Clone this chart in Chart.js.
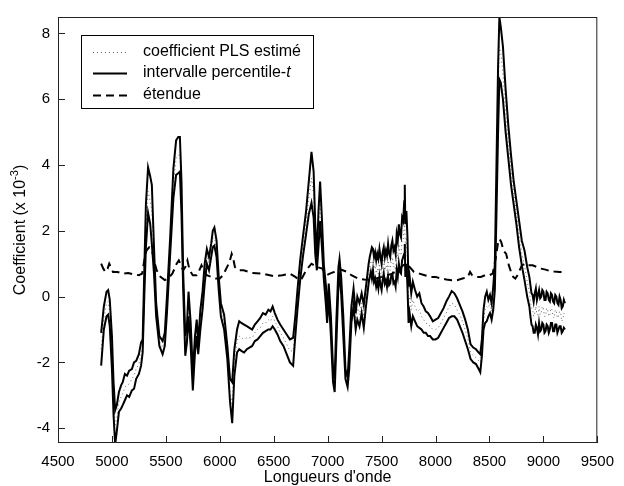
<!DOCTYPE html>
<html>
<head>
<meta charset="utf-8">
<script src="https://cdn.jsdelivr.net/npm/chart.js@4.4.1/dist/chart.umd.min.js"></script>
<style>
  body { margin: 0; background: #fff; }
  #wrap { width: 624px; height: 486px; }
</style>
</head>
<body>
<div id="wrap"><canvas id="coef" width="624" height="486"></canvas></div>
<script>
  // wavenumbers for the bootstrap band (upper / lower bound and estimate)
  const bandX = [
    4900,4925,4950,4965,4980,5000,5015,5030,5045,5065,
    5085,5100,5120,5140,5160,5185,5205,5225,5250,5270,
    5285,5300,5315,5335,5355,5370,5390,5410,5440,5470,
    5490,5510,5540,5570,5595,5615,5630,5645,5660,5680,
    5695,5710,5730,5750,5770,5786,5800,5820,5840,5860,
    5880,5900,5920,5935,5950,5970,5990,6010,6040,6070,
    6095,6115,6135,6160,6180,6200,6225,6250,6275,6300,
    6325,6350,6375,6400,6425,6450,6470,6490,6510,6535,
    6560,6590,6620,6650,6680,6700,6720,6745,6770,6800,
    6825,6850,6870,6885,6900,6915,6930,6945,6965,6985,
    6995,7010,7030,7050,7065,7080,7100,7110,7125,7145,
    7165,7185,7200,7220,7240,7260,7275,7295,7315,7335,
    7355,
    7380,7390,7400,7410,7420,7430,7440,7450,7460,7470,
    7480,7490,7500,7510,7520,7530,7540,7550,7560,7570,
    7580,7590,7600,7610,7620,7630,7640,7650,7660,7670,
    7680,7690,7700,7710,7715,7720,7730,7740,7750,7760,
    7775,7790,7810,7830,7850,7870,7890,
    7910,7930,7950,7975,8000,8025,8050,8075,8100,8125,
    8150,8175,8200,8225,8250,8275,8300,8325,8350,8375,
    8400,8415,8430,8445,8460,8475,8490,8505,8520,8535,
    8550,8565,8580,8592,8605,8625,8650,8675,8700,8725,
    8750,8775,8800,8825,8850,8870,
    8880,8890,8900,8910,8920,8930,8940,8950,8960,8970,
    8980,8990,9000,9010,9020,9030,9040,9050,9060,9070,
    9080,9090,9100,9110,9120,9130,9140,9150,9160,9170,
    9180,9190,9200
  ];
  const upperT = [
    -1.1,-0.3,0.15,0.2,-0.1,-1.2,-2.6,-3.45,-3.3,-2.9,
    -2.7,-2.6,-2.35,-2.4,-2.25,-2.2,-2.0,-1.95,-1.75,-1.4,
    -1.3,0.8,2.8,3.93,3.65,3.4,1.5,-0.2,-1.2,-1.35,
    -1.1,0.0,1.8,3.9,4.75,4.85,4.85,3.5,0.8,-1.2,
    -0.9,0.15,-0.8,-2.3,-1.2,-0.7,-1.4,-0.4,0.15,1.0,
    1.45,1.2,1.6,2.0,2.1,1.7,0.6,-0.2,-0.55,-1.5,
    -2.5,-2.6,-1.6,-1.0,-0.75,-0.8,-0.85,-0.9,-0.95,-1.0,
    -0.85,-0.75,-0.65,-0.5,-0.55,-0.4,-0.45,-0.3,-0.5,-0.7,
    -0.85,-1.0,-1.15,-1.3,-1.25,-0.6,0.2,1.1,1.8,2.6,
    3.5,4.4,3.8,2.2,1.2,2.6,3.5,2.5,0.95,0.3,
    -0.6,0.4,-0.6,-2.2,-2.5,-0.8,0.9,1.15,0.6,-0.6,
    -2.2,-2.45,-1.6,-0.3,0.25,-0.5,0.0,-0.2,0.1,-0.25,
    0.3,
    1.0,1.2,1.35,1.5,1.45,1.2,1.35,1.1,1.3,1.15,
    1.45,1.2,1.0,1.35,1.5,1.2,1.4,1.25,1.6,1.3,
    1.2,1.55,1.7,1.4,1.5,1.3,1.9,1.7,2.2,1.9,
    1.8,2.4,2.3,2.9,3.4,2.2,2.6,1.8,0.3,0.6,
    0.1,0.45,0.2,0.0,0.1,-0.2,-0.3,
    -0.45,-0.5,-0.6,-0.75,-0.7,-0.65,-0.5,-0.35,-0.15,0.0,
    0.17,0.1,-0.05,-0.25,-0.45,-0.7,-1.0,-1.45,-1.55,-1.6,
    -1.7,-1.75,-1.3,-0.4,0.0,0.15,-0.1,0.05,-0.2,0.3,
    1.0,4.0,7.0,8.5,8.2,7.6,6.3,5.2,4.3,3.5,
    2.9,2.3,1.7,1.4,0.9,0.6,
    0.35,0.1,0.05,-0.15,0.1,0.25,-0.1,0.05,0.2,-0.05,
    0.0,0.2,0.15,-0.1,-0.1,0.15,0.1,-0.1,-0.15,0.1,
    0.05,-0.15,-0.2,0.05,0.0,-0.2,-0.25,0.0,-0.1,-0.35,
    -0.3,-0.1,-0.2
  ];
  const lowerT = [
    -2.1,-1.0,-0.6,-0.55,-0.9,-2.2,-3.6,-4.5,-4.1,-3.5,
    -3.4,-3.3,-3.15,-3.0,-3.05,-2.85,-2.8,-2.5,-2.35,-2.1,
    -1.7,0.0,1.5,2.55,2.2,1.6,0.7,-0.6,-1.5,-1.75,
    -1.5,-0.5,1.3,3.0,3.7,3.75,3.8,2.5,0.3,-1.8,
    -1.4,-0.6,-1.5,-2.85,-1.7,-1.2,-1.75,-1.0,-0.4,0.4,
    1.0,0.8,1.2,1.5,1.55,1.2,0.2,-0.6,-1.0,-1.9,
    -3.2,-3.85,-2.4,-1.7,-1.6,-1.65,-1.7,-1.6,-1.55,-1.5,
    -1.35,-1.3,-1.2,-1.1,-1.05,-1.0,-1.0,-0.9,-1.0,-1.15,
    -1.35,-1.5,-1.75,-2.0,-2.1,-1.2,-0.4,0.5,1.2,1.9,
    2.5,2.85,2.4,1.3,0.8,1.5,2.3,1.6,0.5,-0.3,
    -0.8,0.0,-1.2,-2.6,-2.9,-1.5,0.4,0.6,0.1,-1.2,
    -2.5,-2.75,-2.2,-0.8,-0.3,-1.0,-0.7,-0.9,-0.5,-0.95,
    -0.3,
    0.4,0.6,0.75,0.55,0.8,0.45,0.55,0.3,0.45,0.25,
    0.6,0.35,0.2,0.5,0.7,0.4,0.5,0.3,0.6,0.35,
    0.4,0.65,0.7,0.4,0.45,0.3,0.8,0.6,1.0,0.75,
    0.7,1.1,1.2,1.3,1.6,0.6,1.0,0.3,-0.8,-0.5,
    -0.9,-0.6,-0.75,-0.9,-0.95,-1.0,-1.1,
    -1.1,-1.2,-1.2,-1.3,-1.3,-1.25,-1.1,-0.95,-0.8,-0.65,
    -0.6,-0.6,-0.7,-0.9,-1.1,-1.35,-1.6,-1.9,-2.0,-2.05,
    -2.2,-2.3,-1.8,-1.0,-0.8,-0.75,-0.6,-0.5,-0.7,-0.4,
    0.2,2.5,5.0,6.6,6.5,6.0,5.0,4.2,3.4,2.8,
    2.2,1.5,0.95,0.5,0.0,-0.3,
    -0.6,-0.85,-0.9,-1.1,-1.1,-0.85,-0.95,-1.15,-0.8,-1.05,
    -1.0,-0.8,-0.85,-1.1,-1.05,-0.85,-0.9,-1.1,-1.0,-0.8,
    -0.8,-1.05,-1.05,-0.85,-0.85,-1.1,-1.0,-0.9,-0.9,-1.1,
    -1.05,-0.95,-1.0
  ];
  const estimate = [
    -1.6,-0.65,-0.2,-0.15,-0.5,-1.7,-3.1,-3.9,-3.7,-3.2,
    -3.05,-2.95,-2.75,-2.7,-2.65,-2.5,-2.4,-2.2,-2.05,-1.75,
    -1.5,0.4,2.1,3.2,2.9,2.6,1.1,-0.4,-1.35,-1.55,
    -1.3,-0.25,1.55,3.4,4.2,4.3,4.3,3.0,0.55,-1.5,
    -1.15,-0.2,-1.15,-2.55,-1.45,-0.95,-1.55,-0.7,-0.1,0.7,
    1.25,1.0,1.4,1.75,1.8,1.45,0.4,-0.4,-0.8,-1.7,
    -2.9,-3.3,-2.0,-1.35,-1.2,-1.25,-1.3,-1.25,-1.25,-1.25,
    -1.1,-1.0,-0.95,-0.8,-0.8,-0.7,-0.75,-0.6,-0.75,-0.9,
    -1.1,-1.25,-1.45,-1.65,-1.65,-0.9,-0.1,0.8,1.5,2.25,
    3.0,3.6,3.1,1.75,1.0,2.0,2.9,2.0,0.7,0.0,
    -0.7,0.2,-0.9,-2.4,-2.7,-1.1,0.65,0.9,0.35,-0.9,
    -2.35,-2.6,-1.9,-0.55,0.0,-0.75,-0.35,-0.55,-0.2,-0.6,
    0.0,
    0.7,0.9,1.05,1.0,1.1,0.85,0.95,0.7,0.85,0.7,
    1.0,0.75,0.6,0.95,1.1,0.8,0.95,0.8,1.1,0.85,
    0.8,1.1,1.2,0.9,0.95,0.8,1.35,1.15,1.6,1.3,
    1.25,1.75,1.75,2.1,2.5,1.4,1.8,1.0,-0.2,0.0,
    -0.4,-0.1,-0.3,-0.45,-0.4,-0.6,-0.7,
    -0.8,-0.85,-0.9,-1.0,-1.0,-0.95,-0.8,-0.65,-0.5,-0.3,
    -0.2,-0.25,-0.4,-0.55,-0.75,-1.0,-1.3,-1.7,-1.8,-1.85,
    -1.95,-2.0,-1.55,-0.7,-0.4,-0.3,-0.35,-0.2,-0.45,-0.05,
    0.6,3.2,6.0,7.6,7.4,6.8,5.6,4.7,3.85,3.15,
    2.55,1.9,1.3,0.95,0.45,0.15,
    -0.15,-0.35,-0.4,-0.6,-0.5,-0.3,-0.55,-0.55,-0.3,-0.55,
    -0.5,-0.3,-0.35,-0.6,-0.6,-0.35,-0.4,-0.6,-0.55,-0.35,
    -0.4,-0.6,-0.65,-0.4,-0.45,-0.65,-0.6,-0.45,-0.5,-0.75,
    -0.7,-0.5,-0.6
  ];

  // "étendue" curve has its own sampling
  const rangeX = [
    4900,4920,4940,4960,4975,4990,5010,5050,5100,5150,
    5200,5250,5280,5300,5320,5345,5370,5390,5415,5450,
    5490,5520,5560,5600,5620,5640,5660,5680,5700,5720,
    5750,5786,5810,5830,5850,5880,5920,5960,6000,6030,
    6060,6090,6110,6125,6140,6175,6220,6300,6400,6500,
    6580,6650,6700,6740,6760,6800,6850,6900,6950,6990,
    7020,7060,7100,7140,7180,7220,7280,7340,7400,7450,
    7500,7550,7600,7650,7700,7730,7760,7800,7850,7900,
    7950,8000,8050,8100,8150,8200,8250,8300,8320,8340,
    8380,8420,8460,8500,8530,8560,8580,8595,8610,8630,
    8655,8680,8700,8720,8740,8760,8780,8800,8830,8860,
    8900,8940,8980,9020,9060,9100,9150,9200
  ];
  const rangeVals = [
    1.0,0.85,0.75,0.85,1.0,0.9,0.75,0.75,0.7,0.72,
    0.68,0.65,0.7,1.1,1.4,1.5,1.45,1.1,0.8,0.6,
    0.5,0.55,0.7,1.0,1.1,0.95,0.8,0.9,1.1,0.8,
    0.65,0.65,0.8,0.95,0.8,0.65,0.6,0.55,0.55,0.65,
    0.85,1.05,1.3,1.15,0.9,0.8,0.8,0.72,0.7,0.62,
    0.65,0.7,0.6,0.5,0.55,0.8,1.0,0.9,0.85,0.65,
    0.7,0.75,0.85,0.8,0.75,0.65,0.55,0.52,0.5,0.55,
    0.6,0.65,0.7,0.8,0.95,1.0,0.9,0.75,0.7,0.65,
    0.6,0.6,0.55,0.52,0.5,0.5,0.55,0.6,0.75,0.65,
    0.6,0.6,0.65,0.65,0.7,1.2,1.65,1.75,1.65,1.4,
    1.3,0.95,0.75,0.6,0.55,0.65,0.8,0.95,1.0,0.95,
    0.95,0.9,0.85,0.82,0.78,0.76,0.75,0.75
  ];

  const xTicks = [4500,5000,5500,6000,6500,7000,7500,8000,8500,9000,9500];
  const yTicks = [-4,-2,0,2,4,6,8];
  const legendLabels = ['coefficient PLS estimé', 'intervalle percentile-', 'étendue'];

  const FONT = '"Liberation Sans", Arial, Helvetica, sans-serif';

  function pts(xs, ys) {
    return xs.map((x, i) => ({ x: x, y: ys[i] }));
  }

  // frame, inward ticks, legend box and axis titles
  const decor = {
    id: 'decor',
    afterDraw(chart) {
      const ctx = chart.ctx;
      const a = chart.chartArea;
      const xs = chart.scales.x, ys = chart.scales.y;
      ctx.save();
      ctx.strokeStyle = '#222';
      ctx.lineWidth = 1;
      ctx.setLineDash([]);
      ctx.strokeRect(a.left + 0.5, a.top + 0.5, a.right - a.left - 1, a.bottom - a.top - 1);
      ctx.beginPath();
      xTicks.forEach(v => {
        const p = Math.round(xs.getPixelForValue(v)) + 0.5;
        ctx.moveTo(p, a.bottom);
        ctx.lineTo(p, a.bottom - 7);
      });
      yTicks.forEach(v => {
        const p = Math.round(ys.getPixelForValue(v)) + 0.5;
        ctx.moveTo(a.left, p);
        ctx.lineTo(a.left + 7, p);
      });
      ctx.stroke();

      // legend
      const bx = 81, by = 35, bw = 232, bh = 73;
      ctx.fillStyle = '#fff';
      ctx.fillRect(bx, by, bw, bh);
      ctx.strokeStyle = '#000';
      ctx.strokeRect(bx + 0.5, by + 0.5, bw, bh);
      const rows = [51.5, 73, 94.5];
      const ds = chart.data.datasets;
      const order = [2, 0, 3];
      order.forEach((di, i) => {
        const d = ds[di];
        ctx.beginPath();
        ctx.strokeStyle = d.borderColor;
        ctx.lineWidth = d.borderWidth;
        ctx.setLineDash(d.borderDash || []);
        ctx.moveTo(93, Math.round(rows[i]) + 0.5);
        ctx.lineTo(127, Math.round(rows[i]) + 0.5);
        ctx.stroke();
      });
      ctx.setLineDash([]);
      ctx.fillStyle = '#000';
      ctx.textBaseline = 'middle';
      ctx.textAlign = 'left';
      ctx.font = '16px ' + FONT;
      legendLabels.forEach((t, i) => {
        ctx.fillText(t, 143, rows[i]);
      });
      const w = ctx.measureText(legendLabels[1]).width;
      ctx.font = 'italic 16px ' + FONT;
      ctx.fillText('t', 143 + w, rows[1]);

      // x title
      ctx.font = '16px ' + FONT;
      ctx.textAlign = 'center';
      ctx.textBaseline = 'alphabetic';
      ctx.fillText("Longueurs d'onde", (a.left + a.right) / 2, 482);

      // y title with superscript
      const main = 'Coefficient (x 10', sup = '-3', end = ')';
      ctx.translate(25, (a.top + a.bottom) / 2);
      ctx.rotate(-Math.PI / 2);
      ctx.font = '16px ' + FONT;
      const w1 = ctx.measureText(main).width, w3 = ctx.measureText(end).width;
      ctx.font = '11px ' + FONT;
      const w2 = ctx.measureText(sup).width;
      let x0 = -(w1 + w2 + w3) / 2;
      ctx.textAlign = 'left';
      ctx.font = '16px ' + FONT;
      ctx.fillText(main, x0, 0);
      ctx.font = '11px ' + FONT;
      ctx.fillText(sup, x0 + w1, -7);
      ctx.font = '16px ' + FONT;
      ctx.fillText(end, x0 + w1 + w2, 0);
      ctx.restore();
    }
  };

  new Chart(document.getElementById('coef'), {
    type: 'line',
    data: {
      datasets: [
        { label: 'borne sup', data: pts(bandX, upperT), borderColor: '#000', borderWidth: 2 },
        { label: 'borne inf', data: pts(bandX, lowerT), borderColor: '#000', borderWidth: 2 },
        { label: 'coefficient PLS estimé', data: pts(bandX, estimate), borderColor: '#666', borderWidth: 1, borderDash: [1, 3] },
        { label: 'étendue', data: pts(rangeX, rangeVals), borderColor: '#000', borderWidth: 2, borderDash: [8, 5] }
      ]
    },
    options: {
      responsive: false,
      animation: false,
      devicePixelRatio: 1,
      layout: { padding: { top: 12, right: 18, left: 0, bottom: 0 } },
      elements: { point: { radius: 0 }, line: { tension: 0, fill: false } },
      plugins: { legend: { display: false }, tooltip: { enabled: false } },
      scales: {
        x: {
          type: 'linear',
          min: 4500, max: 9500,
          afterBuildTicks: s => { s.ticks = xTicks.map(v => ({ value: v })); },
          afterFit: s => { s.height = 43; },
          grid: { display: false, drawTicks: false },
          border: { display: false },
          ticks: { color: '#000', font: { family: FONT, size: 15 }, padding: 10, autoSkip: false, maxRotation: 0,
                   callback: v => String(v) }
        },
        y: {
          min: -4.45, max: 8.5,
          afterBuildTicks: s => { s.ticks = yTicks.map(v => ({ value: v })); },
          afterFit: s => { s.width = 58; },
          grid: { display: false, drawTicks: false },
          border: { display: false },
          ticks: { color: '#000', font: { family: FONT, size: 15 }, padding: 8, callback: v => String(v) }
        }
      }
    },
    plugins: [decor]
  });
</script>
</body>
</html>
